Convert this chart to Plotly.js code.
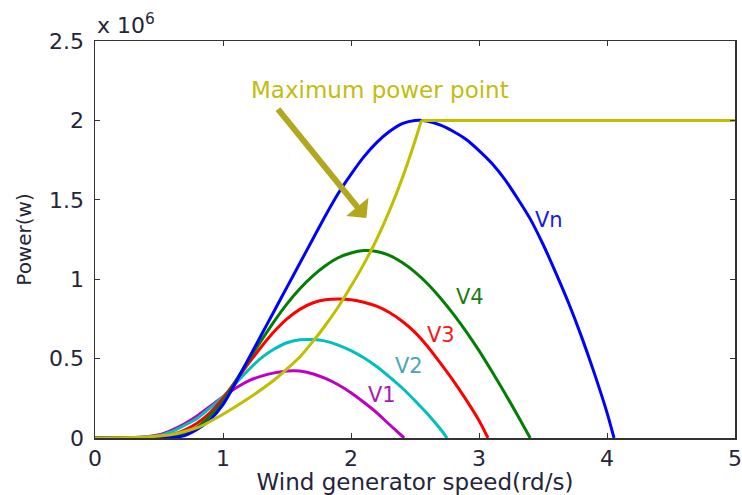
<!DOCTYPE html>
<html>
<head>
<meta charset="utf-8">
<script src="https://cdn.plot.ly/plotly-3.0.1.min.js"></script>
<style>html,body{margin:0;padding:0;background:#fff;}#chart{width:742px;height:495px;}</style>
</head>
<body>
<div id="chart"></div>
<script>
// Power values are in units of 10^6 W (axis shows "x 10^6")
const speedV1 = [0,0.3,0.4,0.5,0.6,0.7,0.8,0.9,1.0,1.1,1.2,1.3,1.4,1.5,1.6,1.7,1.8,1.9,2.0,2.1,2.2,2.3,2.4,2.415];
const powerV1 = [0,0.003,0.008,0.02,0.05,0.09,0.14,0.2,0.26,0.315,0.36,0.39,0.41,0.422,0.422,0.405,0.375,0.335,0.285,0.225,0.16,0.085,0.012,0];

const speedV2 = [0,0.3,0.4,0.5,0.6,0.7,0.8,0.9,1.0,1.1,1.2,1.3,1.4,1.5,1.6,1.7,1.8,1.9,2.0,2.1,2.2,2.3,2.4,2.5,2.6,2.7,2.75];
const powerV2 = [0,0.002,0.006,0.015,0.04,0.08,0.125,0.19,0.26,0.345,0.43,0.505,0.56,0.60,0.618,0.62,0.61,0.585,0.55,0.505,0.45,0.385,0.315,0.235,0.15,0.055,0];

const speedV3 = [0,0.3,0.4,0.5,0.6,0.7,0.8,0.9,1.0,1.1,1.2,1.3,1.4,1.5,1.6,1.7,1.8,1.9,2.0,2.1,2.2,2.3,2.4,2.5,2.6,2.7,2.8,2.9,3.0,3.07];
const powerV3 = [0,0,0.002,0.006,0.02,0.05,0.095,0.16,0.25,0.36,0.47,0.575,0.67,0.75,0.81,0.85,0.87,0.875,0.87,0.855,0.83,0.79,0.735,0.665,0.575,0.47,0.36,0.24,0.11,0];

const speedV4 = [0,0.4,0.5,0.6,0.7,0.8,0.9,1.0,1.1,1.2,1.3,1.4,1.5,1.6,1.7,1.8,1.9,2.0,2.1,2.2,2.3,2.4,2.5,2.6,2.7,2.8,2.9,3.0,3.1,3.2,3.3,3.4];
const powerV4 = [0,0,0.003,0.01,0.03,0.07,0.14,0.23,0.36,0.49,0.615,0.735,0.845,0.94,1.02,1.085,1.135,1.165,1.18,1.175,1.15,1.105,1.045,0.97,0.88,0.78,0.67,0.55,0.42,0.285,0.145,0];

const speedVn = [0,0.5,0.6,0.7,0.8,0.9,1.0,1.1,1.2,1.3,1.4,1.5,1.6,1.7,1.8,1.9,2.0,2.1,2.2,2.3,2.4,2.5,2.6,2.7,2.8,2.9,3.0,3.1,3.2,3.3,3.4,3.5,3.6,3.7,3.8,3.9,4.0,4.055];
const powerVn = [0,0,0.003,0.015,0.055,0.115,0.21,0.35,0.50,0.65,0.80,0.95,1.10,1.25,1.40,1.54,1.66,1.77,1.86,1.93,1.98,2.0,1.995,1.97,1.93,1.88,1.81,1.73,1.63,1.51,1.38,1.22,1.04,0.85,0.64,0.41,0.16,0];

const speedMPP = [0,0.2,0.4,0.6,0.8,1.0,1.2,1.4,1.5,1.6,1.7,1.8,1.9,2.0,2.1,2.2,2.3,2.4,2.5,2.55,5.0];
const powerMPP = [0,0.001,0.006,0.022,0.065,0.15,0.25,0.365,0.435,0.51,0.605,0.71,0.825,0.955,1.095,1.25,1.43,1.635,1.87,2.0,2.0];

const xTicks = [0,1,2,3,4,5];
const xTickText = ['0','1','2','3','4','5'];
const yTicks = [0,0.5,1,1.5,2,2.5];
const yTickText = ['0','0.5','1','1.5','2','2.5'];

const seriesNames = ['V1','V2','V3','V4','Vn'];
const seriesColors = ['#bf00bf','#00bfbf','#ff0000','#007f00','#0000ff'];
const labelColors = ['#a81cb4','#4aa6b8','#f01a1a','#1a7a1a','#1a1ae6'];
const labelPos = [[2.24,0.27],[2.45,0.455],[2.70,0.65],[2.93,0.89],[3.55,1.37]];
const mppColor = '#bfbf00';

const xs = [speedV1, speedV2, speedV3, speedV4, speedVn];
const ys = [powerV1, powerV2, powerV3, powerV4, powerVn];

const FONT = 'DejaVu Sans, Liberation Sans, Arial, sans-serif';
const TXT = '#25253a';

const traces = xs.map((x, i) => ({
  x: x, y: ys[i], type: 'scatter', mode: 'lines', name: seriesNames[i],
  line: {color: seriesColors[i], width: 3, shape: 'spline', smoothing: 0.7},
  hoverinfo: 'skip'
}));
// maximum power point curve: rising part smooth, flat part straight
const cornerIdx = speedMPP.indexOf(2.55);
traces.push({
  x: speedMPP.slice(0, cornerIdx + 1), y: powerMPP.slice(0, cornerIdx + 1), type: 'scatter', mode: 'lines', name: 'MPP',
  line: {color: mppColor, width: 3, shape: 'spline', smoothing: 0.6}, hoverinfo: 'skip'
});
traces.push({
  x: speedMPP.slice(cornerIdx), y: powerMPP.slice(cornerIdx), type: 'scatter', mode: 'lines', name: 'MPP limit',
  line: {color: mppColor, width: 3, shape: 'linear'}, hoverinfo: 'skip'
});

const annotations = seriesNames.map((n, i) => ({
  x: labelPos[i][0], y: labelPos[i][1], xref: 'x', yref: 'y', text: n,
  showarrow: false, font: {family: FONT, size: 21, color: labelColors[i]},
  xanchor: 'center', yanchor: 'middle'
}));
annotations.push({
  x: 2.23, y: 2.19, xref: 'x', yref: 'y', text: 'Maximum power point',
  showarrow: false, font: {family: FONT, size: 23, color: '#c2bc10'},
  xanchor: 'center', yanchor: 'middle'
});
annotations.push({
  x: 2.12, y: 1.385, xref: 'x', yref: 'y', ax: 1.42, ay: 2.08, axref: 'x', ayref: 'y',
  text: '', showarrow: true, arrowhead: 1, arrowsize: 0.8, arrowwidth: 6, arrowcolor: '#b2a820'
});
annotations.push({
  x: 0, y: 1, xref: 'paper', yref: 'paper', text: 'x 10<sup>6</sup>',
  showarrow: false, font: {family: FONT, size: 22, color: TXT},
  xanchor: 'left', yanchor: 'bottom', yshift: 1
});

const axisCommon = {
  showgrid: false, zeroline: false, showline: true, mirror: 'ticks',
  linecolor: '#333', linewidth: 1.5, ticks: 'inside', ticklen: 5, tickcolor: '#333',
  tickfont: {family: FONT, size: 22, color: TXT}, fixedrange: true
};

const layout = {
  width: 742, height: 495,
  margin: {l: 95, r: 7, t: 41, b: 57},
  paper_bgcolor: '#fff', plot_bgcolor: '#fff',
  showlegend: false,
  xaxis: Object.assign({}, axisCommon, {
    range: [0, 5], tickvals: xTicks, ticktext: xTickText,
    title: {text: 'Wind generator speed(rd/s)', font: {family: FONT, size: 23, color: TXT}, standoff: 0}
  }),
  yaxis: Object.assign({}, axisCommon, {
    range: [0, 2.5], tickvals: yTicks, ticktext: yTickText, ticklabelstandoff: 5,
    title: {text: 'Power(w)', font: {family: FONT, size: 20, color: TXT}, standoff: 12}
  }),
  annotations: annotations
};

Plotly.newPlot('chart', traces, layout, {displayModeBar: false, staticPlot: true});
</script>
</body>
</html>
